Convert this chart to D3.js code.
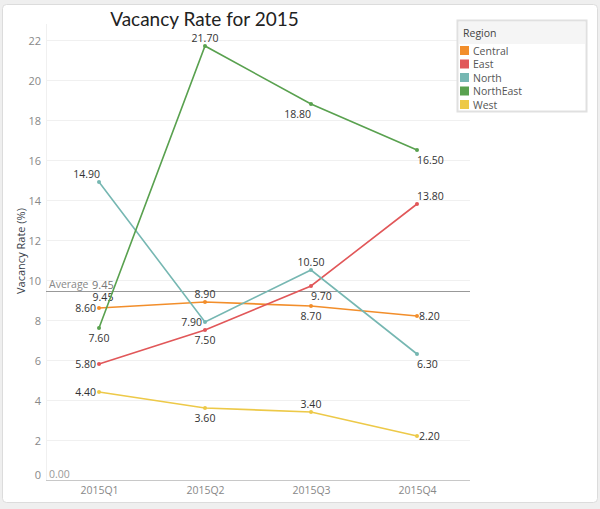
<!DOCTYPE html>
<html><head><meta charset="utf-8">
<script src="https://cdn.jsdelivr.net/npm/d3@7"></script>
<style>
html,body{margin:0;padding:0;background:#efefef;}
svg{display:block;}
</style></head>
<body>
<svg id="c" width="600" height="509"></svg>
<script>
const quarters = ["2015Q1","2015Q2","2015Q3","2015Q4"];
const regions = ["Central","East","North","NorthEast","West"];
const colors = ["#f28e2b","#e15759","#76b7b2","#59a14f","#edc948"];
const central   = [8.60, 8.90, 8.70, 8.20];
const east      = [5.80, 7.50, 9.70, 13.80];
const north     = [14.90, 7.90, 10.50, 6.30];
const northEast = [7.60, 21.70, 18.80, 16.50];
const west      = [4.40, 3.60, 3.40, 2.20];
const seriesValues = [central, east, north, northEast, west];
// label anchor codes: L left, R right, A above, B below, AL above-left, AR above-right, BR below-right, BL below-left
const labelPlacement = [
  ["L","A","B","R"],
  ["L","B","BR","AR"],
  ["AL","L","A","BR"],
  ["B","A","BL","BR"],
  ["L","B","A","R"]
];
const yTicks = [0,2,4,6,8,10,12,14,16,18,20,22];
const averageValue = d3.mean(seriesValues.flat());

const svg = d3.select("#c");
const font = "'Open Sans', sans-serif";

// card
svg.append("rect").attr("x",2.5).attr("y",4.5).attr("width",595).attr("height",498)
  .attr("rx",4).attr("fill","#fff").attr("stroke","#dcdcdc");

const x = d3.scalePoint().domain(quarters).range([46,470]).padding(0.5);
const y = d3.scaleLinear().domain([0,22]).range([480,40]);

// gridlines
svg.append("g").selectAll("line").data(yTicks.filter(d=>d>0)).join("line")
  .attr("x1",46).attr("x2",470).attr("y1",d=>y(d)+0.5).attr("y2",d=>y(d)+0.5)
  .attr("stroke","#f0f0f0");
svg.append("line").attr("x1",46.5).attr("x2",46.5).attr("y1",24).attr("y2",480)
  .attr("stroke","#f0f0f0");

// y axis
const yAxis = svg.append("g").attr("transform","translate(46,0.5)")
  .call(d3.axisLeft(y).tickValues(yTicks).tickSize(0).tickPadding(5));
yAxis.select(".domain").remove();
yAxis.selectAll("text").attr("fill","#888").style("font-family",font).style("font-size","11px")
  .attr("dy",d=>d===0?"-0.22em":"0.32em");

// x axis
const xAxis = svg.append("g").attr("transform","translate(0,480.5)")
  .call(d3.axisBottom(x).tickSize(0).tickPadding(6));
xAxis.select(".domain").attr("stroke","#c8c8c8").attr("d","M46,0H470");
xAxis.selectAll("text").attr("fill","#888").style("font-family",font).style("font-size","10.5px");

// y title
svg.append("text").attr("transform","translate(20,251) rotate(-90)")
  .attr("text-anchor","middle").attr("dominant-baseline","central")
  .attr("fill","#3a3f4a").style("font-family",font).style("font-size","11px")
  .text("Vacancy Rate (%)");

// average line
svg.append("line").attr("x1",46).attr("x2",470)
  .attr("y1",Math.round(y(averageValue))+0.5).attr("y2",Math.round(y(averageValue))+0.5)
  .attr("stroke","#999").attr("stroke-width",1.2);
svg.append("text").attr("x",49).attr("y",y(averageValue)-7).attr("dominant-baseline","central")
  .attr("fill","#888").style("font-family",font).style("font-size","10.5px")
  .text("Average");
svg.append("text").attr("x",92).attr("y",y(averageValue)-7).attr("dominant-baseline","central")
  .attr("fill","#777").style("font-family",font).style("font-size","11px")
  .text(d3.format(".2f")(averageValue));
svg.append("text").attr("x",103).attr("y",y(averageValue)+6).attr("text-anchor","middle").attr("dominant-baseline","central")
  .attr("fill","#333").style("font-family",font).style("font-size","10.5px")
  .text(d3.format(".2f")(averageValue));
svg.append("text").attr("x",49).attr("y",y(0)-6).attr("dominant-baseline","central")
  .attr("fill","#999").style("font-family",font).style("font-size","10.5px")
  .text(d3.format(".2f")(0));

// lines
const line = d3.line().x((d,i)=>x(quarters[i])).y(d=>y(d));
const g = svg.append("g");
seriesValues.forEach((vals,si)=>{
  g.append("path").attr("d",line(vals)).attr("fill","none")
    .attr("stroke",colors[si]).attr("stroke-width",1.6);
  g.selectAll(null).data(vals).join("circle")
    .attr("cx",(d,i)=>x(quarters[i])).attr("cy",d=>y(d)).attr("r",2)
    .attr("fill",colors[si]);
});

// labels
seriesValues.forEach((vals,si)=>{
  vals.forEach((v,i)=>{
    const code = labelPlacement[si][i];
    const px = x(quarters[i]), py = y(v);
    let tx = px, ty = py, anchor = "middle";
    if (code==="L"){tx = px-3; anchor="end";}
    else if (code==="R"){tx = px+2; anchor="start";}
    else if (code==="A"){ty = py-8.5;}
    else if (code==="B"){ty = py+9.5;}
    else if (code==="AL"){ty = py-8.5; anchor="end"; tx = px+1;}
    else if (code==="AR"){ty = py-8.5; anchor="start"; tx = px;}
    else if (code==="BL"){ty = py+9.5; anchor="end"; tx = px;}
    else if (code==="BR"){ty = py+9.5; anchor="start"; tx = px;}
    g.append("text").attr("x",tx).attr("y",ty).attr("text-anchor",anchor)
      .attr("dominant-baseline","central").attr("fill","#333")
      .style("font-family",font).style("font-size","10.5px")
      .text(d3.format(".2f")(v));
  });
});

// title
svg.append("text").attr("x",204.5).attr("y",18).attr("text-anchor","middle")
  .attr("dominant-baseline","central").attr("fill","#222")
  .style("font-family","Lato, sans-serif").style("font-size","19px")
  .text("Vacancy Rate for 2015");

// legend
const lg = svg.append("g");
lg.append("rect").attr("x",457.5).attr("y",20.5).attr("width",129).attr("height",91)
  .attr("fill","#fff").attr("stroke","#e0e0e0").attr("stroke-width",2);
lg.append("rect").attr("x",459).attr("y",22).attr("width",126).attr("height",22)
  .attr("fill","#f5f5f5");
lg.append("text").attr("x",463).attr("y",33).attr("dominant-baseline","central")
  .attr("fill","#444").style("font-family",font).style("font-size","10.5px").text("Region");
const items = lg.selectAll("g.item").data(regions).join("g").attr("class","item")
  .attr("transform",(d,i)=>`translate(460,${50.5+i*13.5})`);
items.append("rect").attr("x",0).attr("y",-4.5).attr("width",9).attr("height",9)
  .attr("fill",(d,i)=>colors[i]);
items.append("text").attr("x",13).attr("y",0).attr("dominant-baseline","central")
  .attr("fill","#555").style("font-family",font).style("font-size","10.5px").text(d=>d);
</script>
</body></html>
